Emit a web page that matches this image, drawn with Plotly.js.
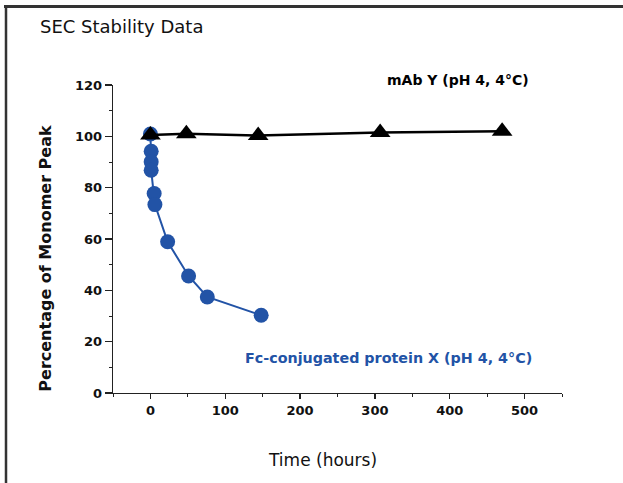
<!DOCTYPE html>
<html>
<head>
<meta charset="utf-8">
<script src="https://cdn.plot.ly/plotly-3.0.1.min.js"></script>
<style>html,body{margin:0;padding:0;background:#fff;}#chart{width:623px;height:483px;}</style>
</head>
<body>
<div id="chart"></div>
<script>
// Data
const mabHours = [0, 48, 144, 307, 470];
const mabMonomer = [100.5, 101, 100.3, 101.5, 102];
const fcHours = [0, 1, 1, 1, 5, 6, 23, 51, 76, 148];
const fcMonomer = [100.9, 94.2, 90.1, 86.8, 77.7, 73.4, 58.9, 45.6, 37.4, 30.3];
const xTickVals = [0, 100, 200, 300, 400, 500];
const yTickVals = [0, 20, 40, 60, 80, 100, 120];

const W = 623, H = 483;
const M = {l: 113, r: 61, t: 85, b: 90};
const PW = W - M.l - M.r, PH = H - M.t - M.b;
const px = x => (x - M.l) / PW;
const py = y => (H - M.b - y) / PH;

const blue = '#2253a6';
const dark = '#111111';

const traces = [
  {
    x: fcHours, y: fcMonomer, type: 'scatter', mode: 'lines+markers',
    name: 'Fc-conjugated protein X',
    line: {color: blue, width: 2},
    marker: {symbol: 'circle', size: 15, color: blue},
    cliponaxis: false
  },
  {
    x: mabHours, y: mabMonomer, type: 'scatter', mode: 'lines+markers',
    name: 'mAb Y',
    line: {color: '#000', width: 2.5},
    marker: {symbol: 'triangle-up', size: 18, color: '#000'},
    cliponaxis: false
  }
];

const tickFont = {family: 'DejaVu Sans', size: 13, color: dark, weight: 'bold'};

const layout = {
  width: W, height: H,
  margin: M,
  paper_bgcolor: '#fff', plot_bgcolor: '#fff',
  showlegend: false,
  title: {
    text: 'SEC Stability Data',
    font: {family: 'DejaVu Sans', size: 18, color: dark},
    xref: 'container', yref: 'container',
    x: 40 / W, xanchor: 'left',
    y: 1 - 27 / H, yanchor: 'middle'
  },
  xaxis: {
    range: [-50, 550], tickvals: xTickVals, ticktext: xTickVals.map(String),
    showgrid: false, zeroline: false,
    showline: true, linecolor: '#222', linewidth: 1.3,
    ticks: 'outside', ticklen: 5, tickwidth: 1.2, tickcolor: '#222',
    minor: {dtick: 50, tick0: 0, ticks: 'outside', ticklen: 3, tickwidth: 1, tickcolor: '#222', showgrid: false},
    tickfont: tickFont,
    fixedrange: true
  },
  yaxis: {
    range: [0, 120], tickvals: yTickVals, ticktext: yTickVals.map(String),
    showgrid: false, zeroline: false,
    showline: true, linecolor: '#222', linewidth: 1.3,
    ticks: 'outside', ticklen: 7, tickwidth: 1.2, tickcolor: '#222',
    minor: {dtick: 10, tick0: 0, ticks: 'outside', ticklen: 3, tickwidth: 1, tickcolor: '#222', showgrid: false},
    tickfont: tickFont,
    fixedrange: true
  },
  annotations: [
    {
      text: 'mAb Y (pH 4, 4°C)', xref: 'paper', yref: 'paper', x: px(531), y: py(80),
      xanchor: 'right', yanchor: 'middle', showarrow: false,
      font: {family: 'DejaVu Sans', size: 14, color: '#000', weight: 'bold'}
    },
    {
      text: 'Fc-conjugated protein X (pH 4, 4°C)', xref: 'paper', yref: 'paper', x: px(534), y: py(358),
      xanchor: 'right', yanchor: 'middle', showarrow: false,
      font: {family: 'DejaVu Sans', size: 14.3, color: blue, weight: 'bold'}
    },
    {
      text: 'Time (hours)', xref: 'paper', yref: 'paper', x: px(322.5), y: py(459.5),
      xanchor: 'center', yanchor: 'middle', showarrow: false,
      font: {family: 'DejaVu Sans', size: 17, color: dark}
    },
    {
      text: 'Percentage of Monomer Peak', xref: 'paper', yref: 'paper', x: px(44.7), y: py(258),
      xanchor: 'center', yanchor: 'middle', showarrow: false, textangle: -90,
      font: {family: 'DejaVu Sans', size: 16, color: dark, weight: 'bold'}
    }
  ],
  shapes: [
    {type: 'line', xref: 'paper', yref: 'paper', x0: px(4), x1: px(623), y0: py(6.5), y1: py(6.5),
     line: {color: '#333', width: 3}},
    {type: 'line', xref: 'paper', yref: 'paper', x0: px(6), x1: px(6), y0: py(5), y1: py(483),
     line: {color: '#333', width: 2.5}}
  ]
};

Plotly.newPlot('chart', traces, layout, {displayModeBar: false, staticPlot: true});
</script>
</body>
</html>
